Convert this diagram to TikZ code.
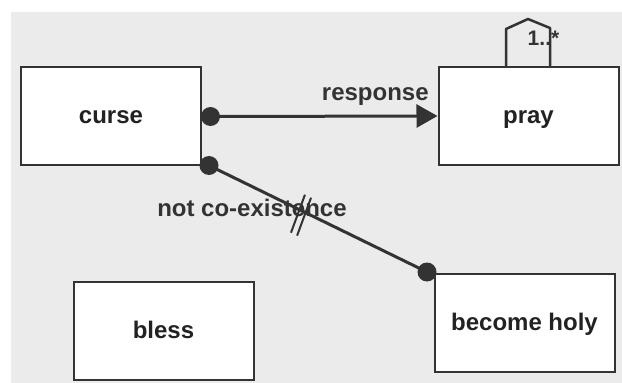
\documentclass[tikz,border=0pt]{standalone}
\usepackage{fontspec}
\setmainfont{Liberation Sans}
\usetikzlibrary{arrows.meta,calc}
\definecolor{canvas}{RGB}{235,235,235}
\definecolor{ink}{RGB}{51,51,51}
\definecolor{txt}{RGB}{34,34,34}
\begin{document}
\begin{tikzpicture}[x=1pt,y=-1pt,
  box/.style={draw=ink, line width=2pt, fill=white, minimum width=180pt,
    minimum height=98pt, inner sep=0pt, text=txt,
    font=\fontsize{24}{28}\selectfont\bfseries,
    text height=20pt, text depth=5pt},
  dot/.style={circle, fill=ink, minimum size=19pt, inner sep=0pt},
  conn/.style={draw=ink, line width=3pt},
  lbl/.style={text=ink, inner sep=0pt, font=\fontsize{24}{28}\selectfont\bfseries},
  multlbl/.style={text=ink, inner sep=0pt, font=\fontsize{21}{24}\selectfont\bfseries},
  slash/.style={draw=ink, line width=2pt},
  loopline/.style={draw=ink, line width=2.5pt, line join=round}]
  \useasboundingbox (0,0) rectangle (622,383);
  \fill[canvas] (11,12) rectangle (622,383);

  % activities
  \node[box] (curse) at (111,116) {curse};
  \node[box] (pray)  at (528.5,116) {pray};
  \node[box] (bless) at (163.5,331) {bless};
  \node[box] (holy)  at (524.5,322.5) {become holy};

  % self loop with multiplicity on pray
  \draw[loopline] ($(pray.north)+(-22.5,0)$) -- ++(0,-37) -- ++(22,-10)
    -- ++(22,9) -- ($(pray.north)+(21.5,0)$);
  \node[multlbl, anchor=base] (mult) at ($(pray.north)+(15,-21)$) {1..*};

  % end dots of the constraints
  \node[dot] (d1) at (210.5,116.5) {};
  \node[dot] (d2) at (209,165.5) {};
  \node[dot] (d3) at (427,272) {};

  % response
  \draw[conn, -{Triangle[length=21pt,width=23pt]}] (d1.center) -- (pray.west)
    node[lbl, pos=0.726, anchor=base, yshift=15.5pt] (resp) {response};

  % not co-existence
  \draw[conn] (d2.center) -- (d3.center)
    node[lbl, pos=0.197, anchor=base, yshift=-30.5pt] (notco) {not co-existence};
  \path (d2.center) -- (d3.center)
    coordinate[pos=0.415] (s1) coordinate[pos=0.443] (s2);
  \draw[slash] ($(s1)+(-8.5,23)$) -- ($(s1)+(5.5,-15)$);
  \draw[slash] ($(s2)+(-8.5,23)$) -- ($(s2)+(5.5,-15)$);
\end{tikzpicture}
\end{document}
